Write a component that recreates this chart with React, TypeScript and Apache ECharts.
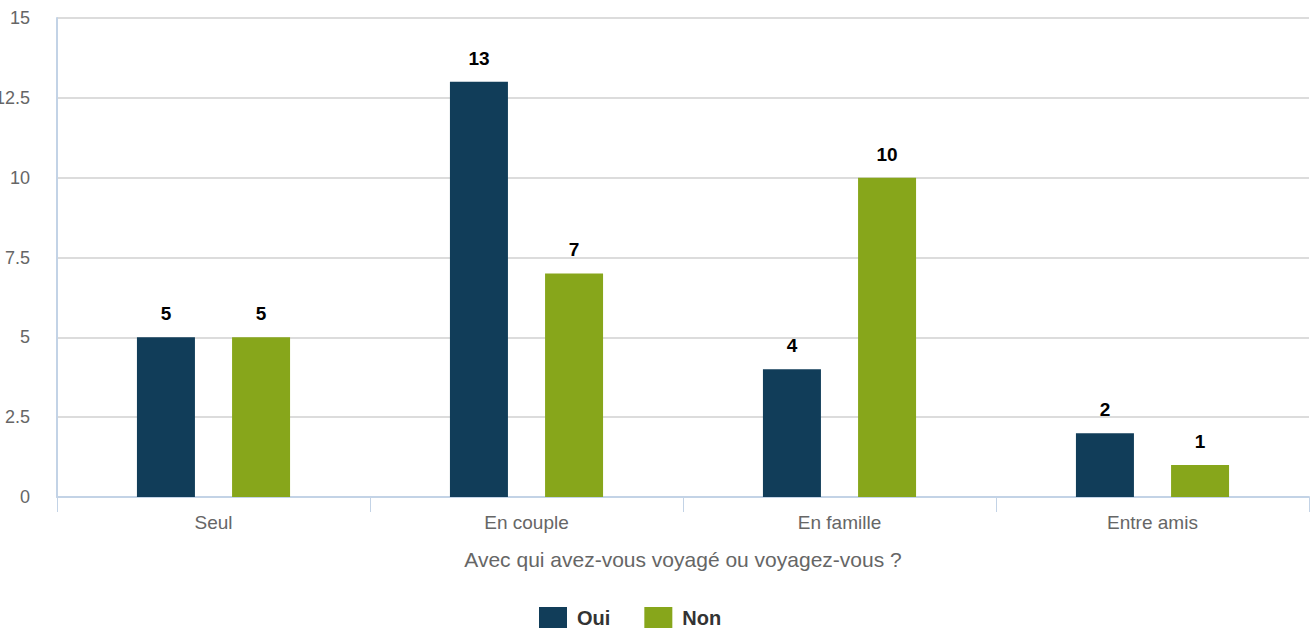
import React, { useEffect, useRef } from "react";
import * as echarts from "echarts";

const categories = ["Seul", "En couple", "En famille", "Entre amis"];
const ouiValues = [5, 13, 4, 2];
const nonValues = [5, 7, 10, 1];
const axisName = "Avec qui avez-vous voyagé ou voyagez-vous ?";

export default function App() {
  const ref = useRef<HTMLDivElement>(null);
  useEffect(() => {
    if (!ref.current) return;
    const chart = echarts.init(ref.current, undefined, { renderer: "svg" });
    const font = "'Liberation Sans', Arial, Helvetica, sans-serif";
    chart.setOption({
      animation: false,
      textStyle: { fontFamily: font },
      grid: { left: 57, right: 7, top: 18, bottom: 137, containLabel: false, outerBoundsMode: "none" },
      legend: {
        top: 602,
        left: 534,
        itemWidth: 28,
        itemHeight: 21,
        itemGap: 34,
        icon: "rect",
        textStyle: { fontSize: 20, fontWeight: "bold", color: "#333", fontFamily: font, padding: [0, 0, 0, 5] },
        data: ["Oui", "Non"],
      },
      xAxis: {
        type: "category",
        data: categories,
        name: axisName,
        nameLocation: "middle",
        nameGap: 52,
        nameTextStyle: { fontSize: 21, color: "#666", fontFamily: font },
        axisLine: { lineStyle: { color: "#c3d3e6", width: 2 } },
        axisTick: { show: true, length: 15, alignWithLabel: false, lineStyle: { color: "#c3d3e6", width: 1 } },
        axisLabel: { fontSize: 19, color: "#666", margin: 16, fontFamily: font },
      },
      yAxis: {
        type: "value",
        min: 0,
        max: 15,
        interval: 2.5,
        axisLine: { show: true, lineStyle: { color: "#c3d3e6", width: 2 } },
        axisTick: { show: false },
        splitLine: { lineStyle: { color: "#dcdcdc", width: 2 } },
        axisLabel: { fontSize: 18, color: "#666", margin: 27, fontFamily: font },
      },
      series: [
        {
          name: "Oui",
          type: "bar",
          data: ouiValues,
          barWidth: 58,
          barGap: "64%",
          itemStyle: { color: "#113d59" },
          label: { show: true, position: "top", distance: 14, fontSize: 19, fontWeight: "bold", color: "#000", fontFamily: font },
        },
        {
          name: "Non",
          type: "bar",
          data: nonValues,
          barWidth: 58,
          barGap: "64%",
          itemStyle: { color: "#87a61b" },
          label: { show: true, position: "top", distance: 14, fontSize: 19, fontWeight: "bold", color: "#000", fontFamily: font },
        },
      ],
    });
    return () => chart.dispose();
  }, []);
  return (
    <div
      ref={ref}
      style={{ position: "fixed", left: 0, top: 0, width: 1316, height: 634, background: "#fff" }}
    />
  );
}
